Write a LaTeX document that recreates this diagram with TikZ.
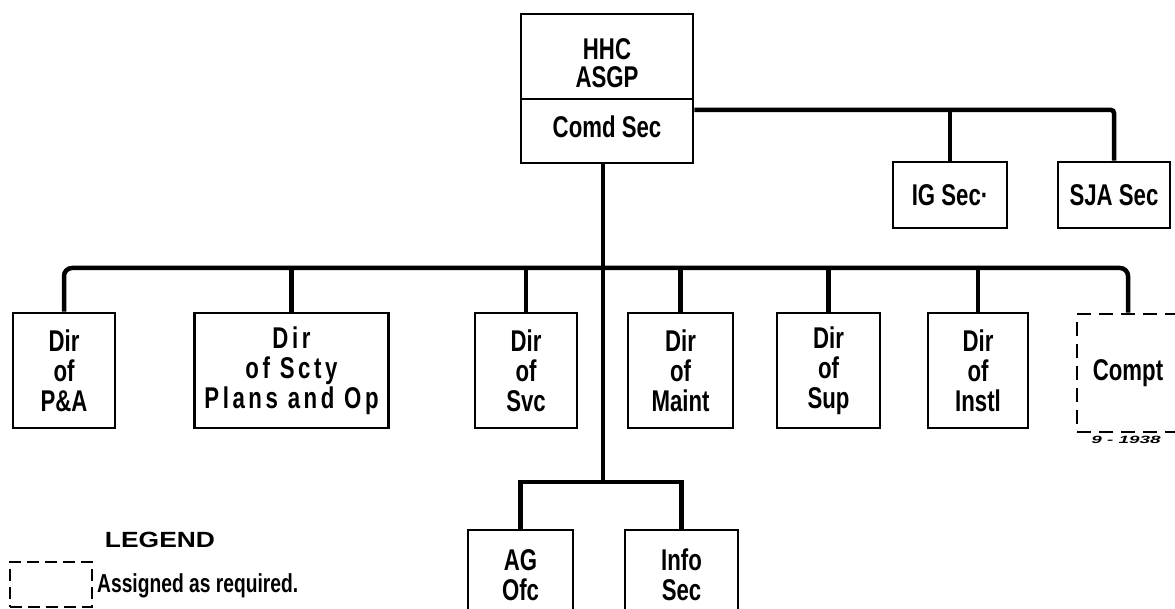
\documentclass[tikz,border=0pt]{standalone}
\usepackage{fontspec}
\setmainfont{Liberation Sans}
\newfontfamily\lbl{Liberation Sans}[FakeStretch=0.74]
\newfontfamily\wide{Liberation Sans}[FakeStretch=0.74,LetterSpace=12]
\newfontfamily\lgd{Liberation Sans}[FakeStretch=1.2]
\newfontfamily\code{Liberation Sans}[FakeStretch=1.8]
\begin{document}
\begin{tikzpicture}[x=1pt,y=-1pt,
  txt/.style={inner sep=0pt, align=center,
    font={\lbl\bfseries\fontsize{30}{30}\selectfont}},
  box/.style={txt, draw, line width=2.7pt},
  dbox/.style={box, dash pattern=on 14pt off 8pt},
  conn/.style={line width=4.5pt},
  rowbox/.style={box, minimum height=115pt}]
\useasboundingbox (0,0) rectangle (1175,609);
\clip (0,0) rectangle (1175,609);

% top box (HHC ASGP over Comd Sec)
\node[box, minimum width=172pt, minimum height=149pt] (top) at (607,88.5)
  {HHC\\[-2pt]ASGP\\[20pt]Comd Sec};
\coordinate (div) at (0,99);
\draw[line width=2.7pt] (top.west |- div) -- (top.east |- div);

% staff sections
\node[box, minimum width=114pt, minimum height=66pt] (ig) at (950,195) {IG Sec·};
\node[box, minimum width=112pt, minimum height=66pt] (sja) at (1114,195) {SJA Sec};

% directorates
\node[rowbox, minimum width=102pt] (pa) at (64,370.5) {Dir\\of\\P\&A};
\node[rowbox, minimum width=194pt, font={\wide\bfseries\fontsize{30}{30}\selectfont}] (scty) at (291.5,370.5) {Dir\\of Scty\\Plans and Op};
\node[rowbox, minimum width=102pt] (svc) at (526,370.5) {Dir\\of\\Svc};
\node[rowbox, minimum width=105pt] (maint) at (680.5,370.5) {Dir\\of\\Maint};
\node[rowbox, minimum width=103pt] (sup) at (828.5,370.5) {Dir\\of\\Sup};
\node[rowbox, minimum width=100pt] (instl) at (978,370.5) {Dir\\of\\Instl};
\node[dbox, minimum width=102pt, minimum height=118pt] (compt) at (1128,373) {Compt};
\node[inner sep=0pt, font={\code\bfseries\itshape\fontsize{10.5}{12}\selectfont}] (code) at (1126,440) {9 - 1938};

% lower sections
\node[box, minimum width=105pt, minimum height=90pt] (ag) at (520.5,575) {AG\\Ofc};
\node[box, minimum width=113pt, minimum height=90pt] (info) at (681.5,575) {Info\\Sec};

% junction coordinates
\coordinate (bus) at (603,268);
\coordinate (sub) at (603,482);
\coordinate (tr) at (0,110);

% connectors
\draw[conn, rounded corners=3pt] (top.east |- tr) -| (sja.north);
\draw[conn] (ig.north) -- (ig.north |- tr);
\draw[conn] (top.south -| bus) -- (sub);
\draw[conn, rounded corners=8pt] (pa.north) |- (bus) -| (compt.north);
\foreach \n in {scty,svc,maint,sup,instl}
  \draw[conn] (\n.north) -- (\n.north |- bus);
\draw[conn] (ag.north) |- (sub) -| (info.north);

% legend
\node[inner sep=0pt, font={\lgd\bfseries\fontsize{22}{24}\selectfont}] (legend) at (160,540) {LEGEND};
\node[draw, line width=2.8pt, dash pattern=on 12pt off 6pt, minimum width=82pt, minimum height=45pt, inner sep=0pt] (lgbox) at (51,584.5) {};
\node[anchor=west, inner sep=0pt, font={\lbl\bfseries\fontsize{26}{28}\selectfont}] (lgtext) at (97,586) {Assigned as required.};
\end{tikzpicture}
\end{document}
